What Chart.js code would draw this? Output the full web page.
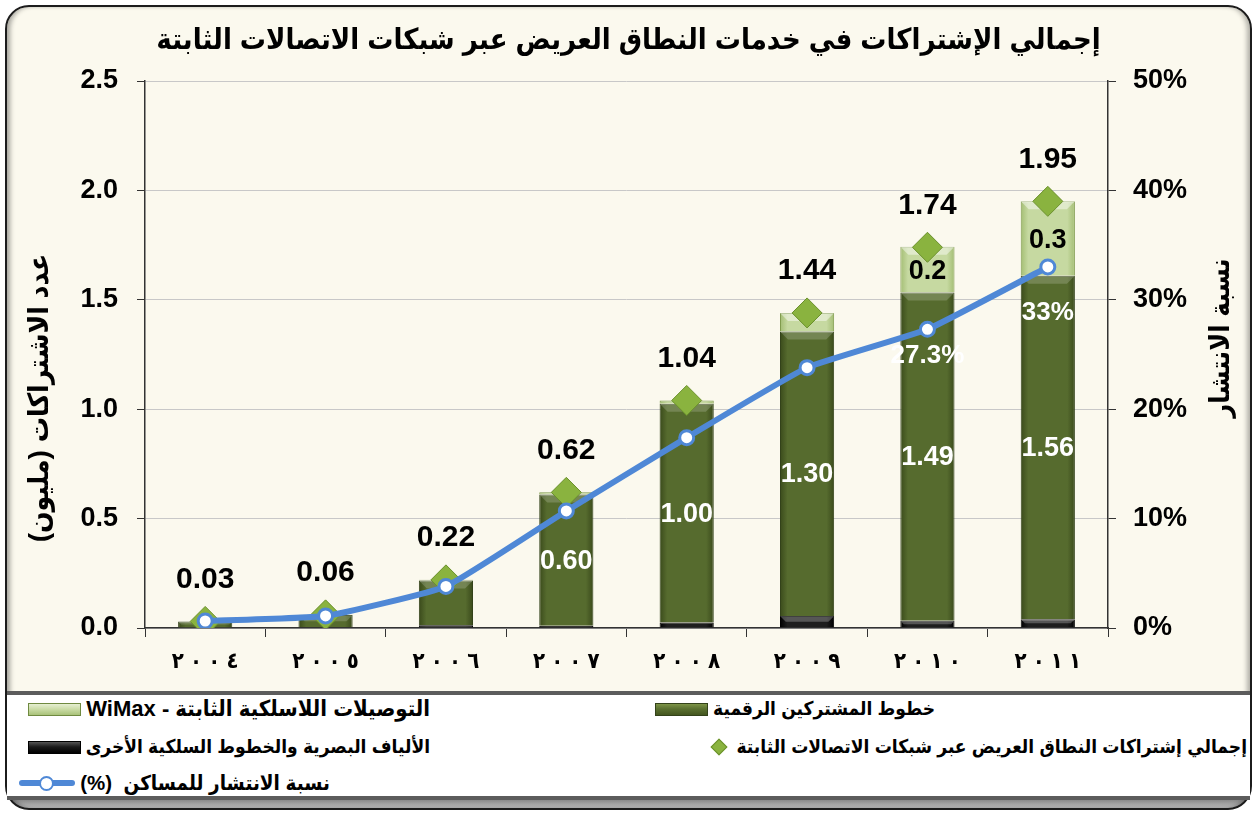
<!DOCTYPE html>
<html lang="ar">
<head>
<meta charset="utf-8">
<script src="https://cdn.jsdelivr.net/npm/chart.js@4.4.1/dist/chart.umd.min.js"></script>
<style>
  html, body { margin: 0; padding: 0; background: #ffffff; }
  body { width: 1257px; height: 814px; position: relative; overflow: hidden; }
  #frame {
    position: absolute; left: 5px; top: 5px; width: 1247px; height: 805px;
    box-sizing: border-box; border: 2px solid #1c1c1c; border-radius: 24px;
    background: linear-gradient(to bottom, #fbf9ee 0px, #fbf9ee 790px, #7d7d7d 791px, #d8d8d8 805px);
    box-shadow: inset 5px 0 5px -2px rgba(0,0,0,0.35), inset -5px 0 5px -2px rgba(0,0,0,0.3);
  }
  #chart { position: absolute; left: 0; top: 0; }
  #legendBox {
    position: absolute; left: 7px; top: 691px; width: 1243px; height: 101px;
    background: #ffffff; border-top: 4px solid #5c5c5c; border-bottom: 4px solid #5c5c5c;
  }
  .item {
    position: absolute; height: 24px; display: flex; align-items: center; direction: rtl;
    font: bold 19px 'Liberation Sans', 'DejaVu Sans Condensed', 'DejaVu Sans', sans-serif;
    color: #000; white-space: nowrap; line-height: 24px;
  }
  .item span { margin-left: 5px; }
  .sw { width: 51px; height: 11px; border: 1px solid #222; }
  .sw.green { background: linear-gradient(to bottom, #7d9447 0%, #5a7030 45%, #44561f 100%); border-color: #33421a; }
  .sw.wimax { background: linear-gradient(to bottom, #e6efd2 0%, #c9dba4 50%, #a9c27a 100%); border-color: #6f8a40; }
  .sw.black { background: linear-gradient(to bottom, #555 0%, #1a1a1a 45%, #000 100%); border-color: #000; }
  .dia { width: 10px; height: 10px; background: #8ab33f; border: 1px solid #6a902c; transform: rotate(45deg); margin: 0 6px 0 4px; }
  .ln { position: relative; width: 56px; height: 14px; }
  .ln:before { content: ''; position: absolute; left: 0; right: 0; top: 4px; height: 6px; background: #4f88d6; border-radius: 3px; }
  .ln:after { content: ''; position: absolute; left: 20px; top: 0; width: 11px; height: 11px; border-radius: 50%; background: #fff; border: 2px solid #4f88d6; }
</style>
</head>
<body>
<div id="frame"></div>
<div id="legendBox"></div>
<canvas id="chart" width="1257" height="690"></canvas>

<div class="item" style="right:827px; top:697px; font-size:22px;"><span dir="rtl">التوصيلات اللاسلكية الثابتة - WiMax</span><div class="sw wimax"></div></div>
<div class="item" style="right:322px; top:697px;"><span dir="rtl">خطوط المشتركين الرقمية</span><div class="sw green"></div></div>
<div class="item" style="right:827px; top:735px;"><span dir="rtl">الألياف البصرية والخطوط السلكية الأخرى</span><div class="sw black"></div></div>
<div class="item" style="right:10px; top:735px;"><span dir="rtl">إجمالي إشتراكات النطاق العريض عبر شبكات الاتصالات الثابتة</span><div class="dia"></div></div>
<div class="item" style="right:927px; top:771px; font-size:20.5px;"><span dir="rtl">نسبة الانتشار للمساكن&nbsp; (%)</span><div class="ln"></div></div>

<script>
// data (million subscriptions, penetration %)
const years = ['٢٠٠٤', '٢٠٠٥', '٢٠٠٦', '٢٠٠٧', '٢٠٠٨', '٢٠٠٩', '٢٠١٠', '٢٠١١'];
const fiberOther = [0.002, 0.003, 0.012, 0.01, 0.025, 0.055, 0.033, 0.04];
const dslLines = [0.028, 0.056, 0.205, 0.60, 1.00, 1.30, 1.50, 1.57];
const wimaxLines = [0, 0.001, 0.003, 0.01, 0.015, 0.085, 0.21, 0.34];
const totals = [0.03, 0.06, 0.22, 0.62, 1.04, 1.44, 1.74, 1.95];
const penetration = [0.64, 1.1, 3.8, 10.7, 17.4, 23.8, 27.3, 33];
const dslLabels = ['', '', '', '0.60', '1.00', '1.30', '1.49', '1.56'];
const wimaxLabels = ['', '', '', '', '', '', '0.2', '0.3'];
const penLabels = ['', '', '', '', '', '', '27.3%', '33%'];

const FONT = "'Liberation Sans', 'DejaVu Sans Condensed', 'DejaVu Sans', sans-serif";
const TITLE = 'إجمالي الإشتراكات في خدمات النطاق العريض عبر شبكات الاتصالات الثابتة';
const LEFT_TITLE = 'عدد الاشتراكات (مليون)\u200F';
const RIGHT_TITLE = 'نسبة الانتشار';

Chart.defaults.font.family = FONT;
Chart.defaults.color = '#000';

// keep arabic-indic digits in order while spacing them out
function spaced(s) {
  return s.split('').join(' \u200E');
}

// darker edges on the bars
function barFill(c, edge, mid) {
  const chart = c.chart;
  if (!chart.chartArea || c.dataIndex === undefined) return mid;
  const xs = chart.scales.x;
  const cx = xs.getPixelForValue(c.dataIndex);
  const w = xs.width / years.length * 0.45;
  const g = chart.ctx.createLinearGradient(cx - w / 2, 0, cx + w / 2, 0);
  g.addColorStop(0, edge);
  g.addColorStop(0.14, mid);
  g.addColorStop(0.86, mid);
  g.addColorStop(1, edge);
  return g;
}

const bevel = {
  id: 'bevel',
  afterDatasetDraw(chart, args) {
    if (args.index > 2) return;
    const ctx = chart.ctx;
    const shade = ['rgba(255,255,255,0.25)', 'rgba(255,255,255,0.18)', 'rgba(255,255,255,0.45)'][args.index];
    args.meta.data.forEach(el => {
      const h = el.base - el.y;
      if (h < 6) return;
      const d = Math.min(8, h / 2);
      const l = el.x - el.width / 2, r = el.x + el.width / 2;
      ctx.save();
      ctx.fillStyle = shade;
      ctx.beginPath();
      ctx.moveTo(l, el.y);
      ctx.lineTo(r, el.y);
      ctx.lineTo(r - d, el.y + d);
      ctx.lineTo(l + d, el.y + d);
      ctx.closePath();
      ctx.fill();
      ctx.restore();
    });
  }
};

function vText(ctx, text, x, y) {
  ctx.save();
  ctx.translate(x, y);
  ctx.rotate(-Math.PI / 2);
  ctx.fillText(text, 0, 0);
  ctx.restore();
}

const labels = {
  id: 'labels',
  afterDraw(chart) {
    const ctx = chart.ctx;
    ctx.save();
    ctx.textAlign = 'center';
    ctx.textBaseline = 'middle';

    // green segment values
    ctx.font = 'bold 27px ' + FONT;
    ctx.fillStyle = '#ffffff';
    chart.getDatasetMeta(1).data.forEach((el, i) => {
      if (dslLabels[i]) ctx.fillText(dslLabels[i], el.x, (el.y + el.base) / 2 + 1);
    });

    // wimax values
    ctx.fillStyle = '#000';
    chart.getDatasetMeta(2).data.forEach((el, i) => {
      if (wimaxLabels[i]) ctx.fillText(wimaxLabels[i], el.x, (el.y + el.base) / 2 + 2);
    });

    // totals above diamonds
    ctx.font = 'bold 30px ' + FONT;
    chart.getDatasetMeta(3).data.forEach((el, i) => {
      ctx.fillText(totals[i].toFixed(2), el.x, el.y - 42);
    });

    // penetration labels
    const off = [0, 0, 0, 0, 0, 0, 26, 46];
    ctx.font = 'bold 26px ' + FONT;
    ctx.fillStyle = '#ffffff';
    chart.getDatasetMeta(4).data.forEach((el, i) => {
      if (penLabels[i]) ctx.fillText(penLabels[i], el.x, el.y + off[i]);
    });

    // axis titles, both turned the same way
    ctx.font = 'bold 28px ' + FONT;
    ctx.fillStyle = '#000';
    vText(ctx, LEFT_TITLE, 40, 398);
    ctx.font = 'bold 27px ' + FONT;
    vText(ctx, RIGHT_TITLE, 1222, 338);
    ctx.restore();
  }
};

new Chart(document.getElementById('chart'), {
  data: {
    labels: years,
    datasets: [
      {
        type: 'bar', label: 'الألياف البصرية والخطوط السلكية الأخرى', data: fiberOther, order: 2,
        backgroundColor: c => barFill(c, '#000000', '#1e1e1e'),
        borderColor: '#000', borderWidth: 1,
        barPercentage: 0.9, categoryPercentage: 0.5
      },
      {
        type: 'bar', label: 'خطوط المشتركين الرقمية', data: dslLines, order: 2,
        backgroundColor: c => barFill(c, '#3a4a1b', '#566b2e'),
        borderColor: '#33421a', borderWidth: 1,
        barPercentage: 0.9, categoryPercentage: 0.5
      },
      {
        type: 'bar', label: 'التوصيلات اللاسلكية الثابتة - WiMax', data: wimaxLines, order: 2,
        backgroundColor: c => barFill(c, '#a3bd73', '#c6d9a1'),
        borderColor: '#7f9a4c', borderWidth: 1,
        barPercentage: 0.9, categoryPercentage: 0.5
      },
      {
        type: 'line', label: 'إجمالي إشتراكات النطاق العريض عبر شبكات الاتصالات الثابتة', data: totals,
        order: 1, stack: 'totals', showLine: false, yAxisID: 'y',
        pointStyle: 'rectRot', pointRadius: 15, pointHoverRadius: 15,
        pointBackgroundColor: '#8ab33f', pointBorderColor: '#6a902c', pointBorderWidth: 1
      },
      {
        type: 'line', label: 'نسبة الانتشار للمساكن (%)', data: penetration,
        order: 0, yAxisID: 'y1', tension: 0.12,
        borderColor: '#4f88d6', borderWidth: 6,
        pointRadius: 7, pointHoverRadius: 7, pointBackgroundColor: '#ffffff',
        pointBorderColor: '#4f88d6', pointBorderWidth: 3
      }
    ]
  },
  options: {
    responsive: false,
    animation: false,
    layout: { padding: { left: 10, right: 10, top: 0, bottom: 0 } },
    plugins: {
      legend: { display: false },
      tooltip: { enabled: false },
      title: {
        display: true, text: TITLE, color: '#000',
        font: { size: 29, weight: 'bold' },
        padding: { top: 24, bottom: 22.2 }
      }
    },
    scales: {
      x: {
        stacked: true,
        grid: { drawOnChartArea: false, offset: true, tickLength: 9, tickColor: '#333' },
        border: { color: '#333', width: 1.5 },
        ticks: { font: { size: 22, weight: 'bold' }, color: '#000', padding: 12, callback: (v, i) => spaced(years[i]) },
        afterFit: s => { s.height = 62; }
      },
      y: {
        stacked: true, min: 0, max: 2.5,
        ticks: { stepSize: 0.5, font: { size: 27, weight: 'bold' }, color: '#000', padding: 19, callback: v => v.toFixed(1) },
        grid: { color: '#c8c8c8', tickColor: '#333', tickLength: 8 },
        border: { color: '#333', width: 1.5 },
        afterFit: s => { s.width = 135; }
      },
      y1: {
        position: 'right', min: 0, max: 50,
        ticks: { stepSize: 10, font: { size: 27, weight: 'bold' }, color: '#000', padding: 17, callback: v => v + '%' },
        grid: { drawOnChartArea: false, tickColor: '#333', tickLength: 8 },
        border: { color: '#333', width: 1.5 },
        afterFit: s => { s.width = 139; }
      }
    }
  },
  plugins: [bevel, labels]
});
</script>
</body>
</html>
